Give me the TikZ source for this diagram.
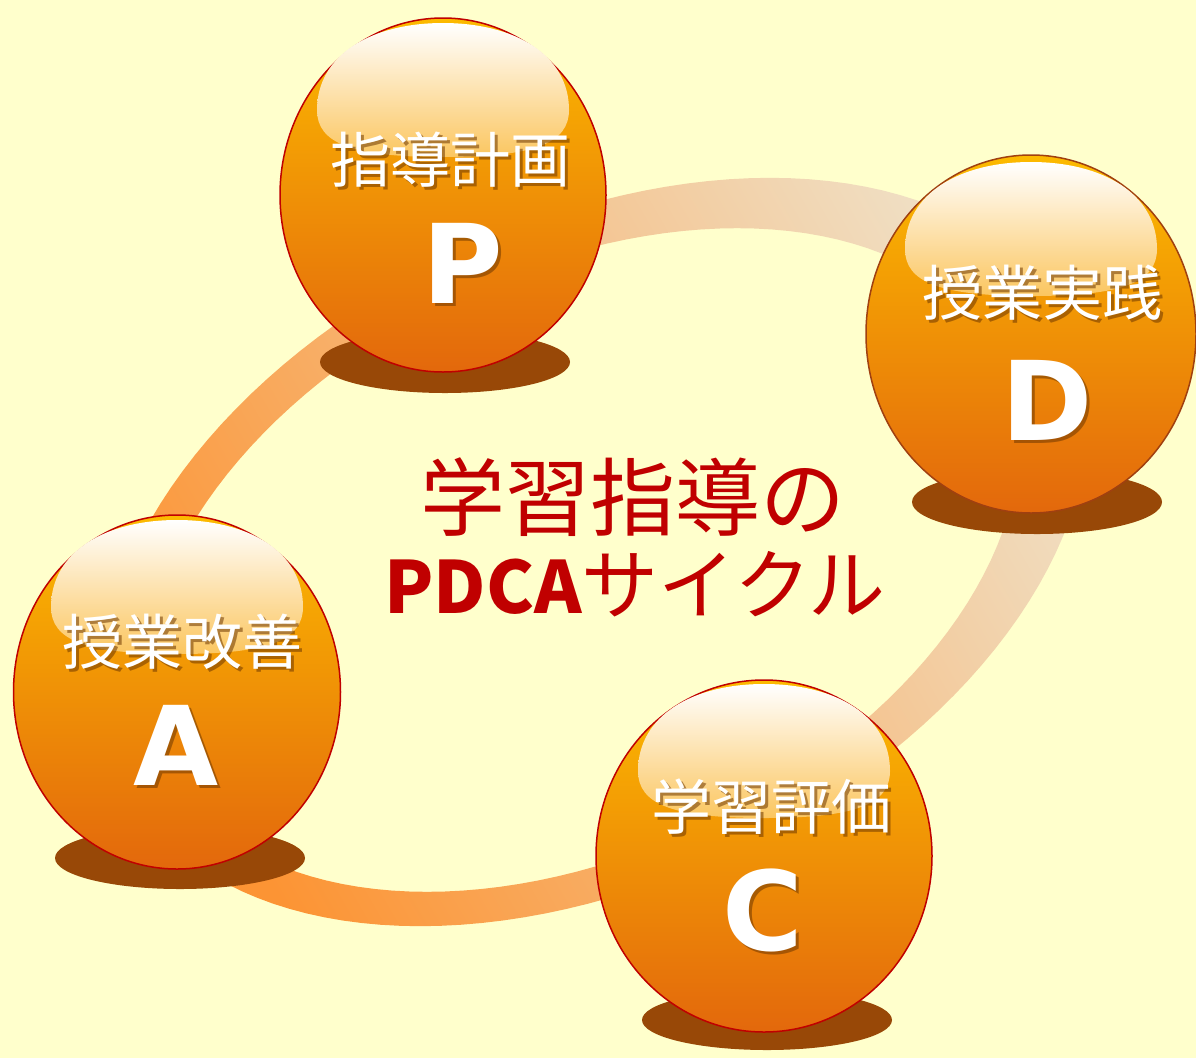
\documentclass[tikz,border=0pt]{standalone}
\usepackage{fontspec}
\newfontfamily\cjk{Noto Sans CJK JP}
\newfontfamily\latinb{DejaVu Sans}
\usetikzlibrary{shapes.geometric}
\definecolor{bg}{RGB}{255,255,204}
\definecolor{balltop}{RGB}{252,186,0}
\definecolor{ballbot}{RGB}{227,104,12}
\definecolor{rimred}{RGB}{192,0,0}
\definecolor{rimbrown}{RGB}{160,64,16}
\definecolor{shadowbrown}{RGB}{152,72,7}
\definecolor{titlered}{RGB}{192,0,0}
\definecolor{ringA}{RGB}{252,148,52}
\definecolor{ringB}{RGB}{250,176,100}
\definecolor{ringC}{RGB}{240,222,194}
\definecolor{hlbot}{RGB}{251,198,96}
\definecolor{hlmid}{RGB}{254,238,215}
\definecolor{txtshadow}{RGB}{110,55,0}
\tikzset{
  ballnode/.style={ellipse, draw=rimred, line width=1.5pt, top color=balltop,
    bottom color=ballbot, inner sep=0pt},
  ballshadow/.style={ellipse, fill=shadowbrown, inner sep=0pt,
    minimum width=250pt, minimum height=62pt},
  kanjilbl/.style={text=white, inner sep=0pt, font=\cjk\fontsize{60}{62}\selectfont},
  kanjish/.style={text=txtshadow, opacity=0.55, inner sep=0pt, font=\cjk\fontsize{60}{62}\selectfont},
  letterlbl/.style={text=white, inner sep=0pt, font=\latinb\bfseries\fontsize{110}{112}\selectfont},
  lettersh/.style={text=txtshadow, opacity=0.55, inner sep=0pt, font=\latinb\bfseries\fontsize{110}{112}\selectfont},
  titlelbl/.style={text=titlered, inner sep=0pt},
  hl/.pic={
    \shade[top color=white, middle color=hlmid, bottom color=hlbot]
      (-126,-85) .. controls (-126,-140) and (-72,-172) .. (0,-172)
      .. controls (72,-172) and (126,-140) .. (126,-85)
      .. controls (126,-52) and (92,-38) .. (0,-38)
      .. controls (-92,-38) and (-126,-52) .. (-126,-85) -- cycle;
  }
}
\begin{document}
\begin{tikzpicture}[x=1pt,y=-1pt]
\fill[bg] (0,0) rectangle (1196,1058);
\useasboundingbox (0,0) rectangle (1196,1058);
% ring
\shade[even odd rule, left color=ringA, middle color=ringB, right color=ringC, shading angle=120]
  plot[domain=0:360, samples=145] ({595+1.06*(435*cos(\x)-165*sin(\x))},{552+1.06*353*sin(\x)}) -- cycle
  plot[domain=0:360, samples=145] ({582+0.94*(435*cos(\x)-165*sin(\x))},{560+0.94*353*sin(\x)}) -- cycle;
% shadows
\node[ballshadow] (Psh) at (445,362) {};
\node[ballshadow, minimum height=64pt] (Dsh) at (1037,502) {};
\node[ballshadow] (Ash) at (180,858) {};
\node[ballshadow, minimum height=60pt] (Csh) at (767,1020) {};
% balls
\node[ballnode, minimum width=326pt, minimum height=354pt] (P) at (443,195) {};
\node[ballnode, draw=rimbrown, minimum width=330pt, minimum height=358pt] (D) at (1031,334) {};
\node[ballnode, minimum width=327pt, minimum height=354pt] (A) at (177,692) {};
\node[ballnode, minimum width=336pt, minimum height=352pt] (C) at (764,856) {};
% highlights
\pic at (443,195) {hl};
\pic at (1031,334) {hl};
\pic at (177,692) {hl};
\pic at (764,856) {hl};
% labels
\node[kanjish] (Pks) at (453,163) {指導計画};
\node[kanjilbl] (Pk) at (450,160) {指導計画};
\node[lettersh] (Pls) at (466,266) {P};
\node[letterlbl] (Pl) at (463,263) {P};
\node[kanjish] (Dks) at (1045,296) {授業実践};
\node[kanjilbl] (Dk) at (1042,293) {授業実践};
\node[lettersh] (Dls) at (1050,403) {D};
\node[letterlbl] (Dl) at (1047,400) {D};
\node[kanjish] (Aks) at (185,645) {授業改善};
\node[kanjilbl] (Ak) at (182,642) {授業改善};
\node[lettersh] (Als) at (179,748) {A};
\node[letterlbl] (Al) at (176,745) {A};
\node[kanjish] (Cks) at (774,810) {学習評価};
\node[kanjilbl] (Ck) at (771,807) {学習評価};
\node[lettersh] (Cls) at (766,913) {C};
\node[letterlbl] (Cl) at (763,910) {C};
% title
\node[titlelbl, font=\cjk\fontsize{85}{88}\selectfont] (t1) at (633,497) {学習指導の};
\node[titlelbl, anchor=base, font=\cjk\fontsize{77}{80}\selectfont] (t2) at (635,613) {{\bfseries\fontsize{72}{75}\selectfont PDCA}サイクル};
\end{tikzpicture}
\end{document}
